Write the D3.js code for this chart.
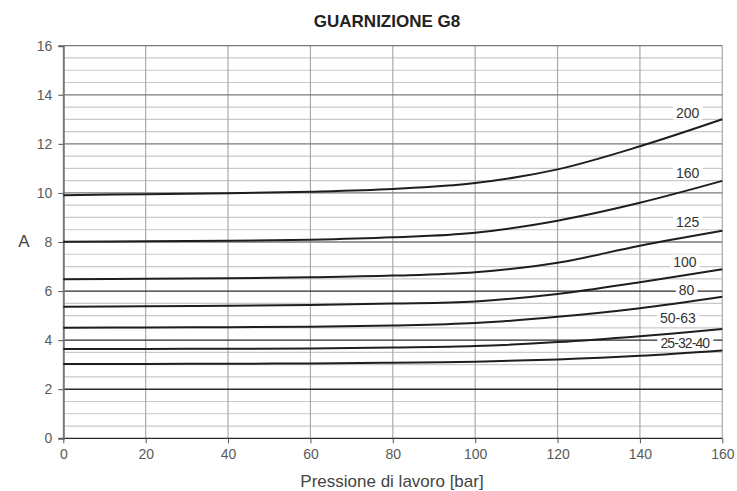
<!DOCTYPE html>
<html><head><meta charset="utf-8">
<script src="https://cdn.jsdelivr.net/npm/d3@7"></script>
<style>body{margin:0;background:#fff}svg{display:block;font-family:"Liberation Sans",Arial,sans-serif}</style>
</head><body><svg id="c" width="737" height="491"></svg>
<script>
const pressures = [0, 20, 40, 60, 80, 100, 120, 140, 160];
const seriesNames = ["200", "160", "125", "100", "80", "50-63", "25-32-40"];
const s200 = [9.91, 9.95, 9.99, 10.05, 10.16, 10.4, 10.96, 11.9, 13.0];
const s160 = [8.01, 8.03, 8.05, 8.09, 8.19, 8.38, 8.87, 9.6, 10.49];
const s125 = [6.48, 6.5, 6.52, 6.56, 6.63, 6.77, 7.15, 7.85, 8.46];
const s100 = [5.36, 5.38, 5.4, 5.43, 5.49, 5.58, 5.88, 6.36, 6.89];
const s80 = [4.51, 4.52, 4.53, 4.55, 4.6, 4.7, 4.95, 5.3, 5.77];
const s5063 = [3.64, 3.64, 3.65, 3.66, 3.7, 3.76, 3.92, 4.16, 4.45];
const s253240 = [3.03, 3.03, 3.04, 3.05, 3.08, 3.12, 3.21, 3.36, 3.58];
const labelX = [151.6, 151.6, 151.6, 150.9, 151.3, 149.2, 150.9];
const labelY = [13.27, 10.81, 8.83, 7.2, 6.04, 4.9, 3.88];
const xTicks = [0, 20, 40, 60, 80, 100, 120, 140, 160];
const yTicks = [0, 2, 4, 6, 8, 10, 12, 14, 16];
const title = "GUARNIZIONE G8";
const xTitle = "Pressione di lavoro [bar]";
const yTitle = "A";

const allSeries = [s200, s160, s125, s100, s80, s5063, s253240];
const svg = d3.select("#c");
const L = 63.3, R = 722.3, T = 45.7, B = 438.3;
const x = d3.scaleLinear().domain([0, 160]).range([L, R]);
const y = d3.scaleLinear().domain([0, 16]).range([B, T]);

// minor grid
const minor = d3.range(0, 16.01, 0.5).filter(v => v % 2 !== 0);
svg.append("g").selectAll("line").data(minor).join("line")
  .attr("x1", L).attr("x2", R).attr("y1", d => y(d)).attr("y2", d => y(d))
  .attr("stroke", "#c9c9c9").attr("stroke-width", 1.2);
// vertical grid
svg.append("g").selectAll("line").data(xTicks.slice(1)).join("line")
  .attr("x1", d => x(d)).attr("x2", d => x(d)).attr("y1", T).attr("y2", B)
  .attr("stroke", "#aaa").attr("stroke-width", 1.2);
// major grid
svg.append("g").selectAll("line").data(yTicks).join("line")
  .attr("x1", L).attr("x2", R).attr("y1", d => y(d)).attr("y2", d => y(d))
  .attr("stroke", d => d <= 6 ? "#2a2a2a" : "#7a7a7a").attr("stroke-width", 1.3);

// axes
const yAxis = d3.axisLeft(y).tickValues(yTicks).tickSize(5).tickPadding(6);
const gy = svg.append("g").attr("transform", `translate(${L},0)`).call(yAxis);
gy.select(".domain").attr("stroke", "#777").attr("stroke-width", 2);
gy.selectAll(".tick line").attr("stroke", "#555");
gy.selectAll("text").attr("fill", "#5a5a5a").style("font-size", "14px").style("font-family", "Liberation Sans, Arial, sans-serif");
const xAxis = d3.axisBottom(x).tickValues(xTicks).tickSize(5).tickPadding(6);
const gx = svg.append("g").attr("transform", `translate(0,${B})`).call(xAxis);
gx.select(".domain").remove();
gx.selectAll(".tick line").attr("stroke", "#555");
gx.selectAll("text").attr("fill", "#5a5a5a").style("font-size", "14px").style("font-family", "Liberation Sans, Arial, sans-serif");

// label boxes
const lab = svg.append("g");
seriesNames.forEach((n, i) => {
  const t = lab.append("text").attr("x", x(labelX[i])).attr("y", y(labelY[i]))
    .attr("text-anchor", "middle").attr("dominant-baseline", "central")
    .attr("fill", "#333").style("font-size", "14px")
    .style("letter-spacing", n.length > 6 ? "-0.9px" : "0px").text(n);
  const bb = t.node().getBBox();
  lab.insert("rect", "text").attr("x", bb.x - 3).attr("y", bb.y + 1).attr("width", bb.width + 6).attr("height", bb.height - 2).attr("fill", "#fff");
});

// curves
const line = d3.line().x((d, i) => x(pressures[i])).y(d => y(d)).curve(d3.curveCatmullRom.alpha(0.5));
svg.append("g").selectAll("path").data(allSeries).join("path")
  .attr("d", line).attr("fill", "none").attr("stroke", "#1e1e1e").attr("stroke-width", 2);

// titles
svg.append("text").attr("x", 387).attr("y", 27).attr("text-anchor", "middle")
  .style("font-weight", "bold").style("font-size", "17px").attr("fill", "#222").text(title);
svg.append("text").attr("x", 392).attr("y", 487).attr("text-anchor", "middle")
  .style("font-size", "17px").attr("fill", "#444").text(xTitle);
svg.append("text").attr("x", 24).attr("y", 247).attr("text-anchor", "middle")
  .style("font-size", "17px").attr("fill", "#444").text(yTitle);
</script></body></html>
